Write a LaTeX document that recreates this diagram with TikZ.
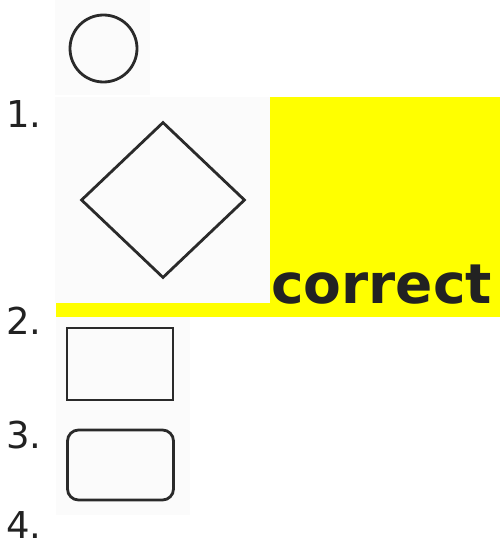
\documentclass[tikz,border=0pt]{standalone}
\usepackage{fontspec}
\setmainfont{DejaVu Sans}
\usetikzlibrary{shapes.geometric}
\definecolor{ink}{HTML}{222222}
\definecolor{shapeline}{HTML}{2A2A2A}
\definecolor{hilite}{HTML}{FFFF00}
\tikzset{
  numlabel/.style={anchor=base west, inner sep=0pt, text=ink, font=\fontsize{37}{40}\selectfont},
  shapeoutline/.style={draw=shapeline, line width=2.8pt, inner sep=0pt},
  imgback/.style={fill=black!1.5, draw=none},
}
\begin{document}
\begin{tikzpicture}[x=1pt,y=-1pt]
\useasboundingbox (0,0) rectangle (500,546);
% faint image backgrounds
\fill[imgback] (55,0) rectangle (150,95);
\fill[imgback] (55,97) rectangle (270,303);
\fill[imgback] (56,317) rectangle (190,415);
\fill[imgback] (56,415) rectangle (190,515);
% yellow highlight
\fill[hilite] (270,97) rectangle (500,317);
\fill[hilite] (56,303) rectangle (270,317);
\node[anchor=base west, inner sep=0pt, text=ink, font=\fontsize{55}{60}\selectfont\bfseries] (correct) at (271,303) {correct};
% shapes
\node[shapeoutline, circle, minimum size=67pt] (circ) at (103.5,48.5) {};
\node[shapeoutline, diamond, minimum width=164pt, minimum height=156pt] (diam) at (163,200) {};
\node[shapeoutline, rectangle, minimum width=106pt, minimum height=72pt] (rect) at (120,364) {};
\node[shapeoutline, rectangle, rounded corners=11pt, minimum width=106pt, minimum height=70pt] (rnd) at (120.5,465) {};
% numbers
\node[numlabel] (n1) at (6,127) {1.};
\node[numlabel] (n2) at (6,334) {2.};
\node[numlabel] (n3) at (6,448) {3.};
\node[numlabel] (n4) at (6,538) {4.};
\end{tikzpicture}
\end{document}
